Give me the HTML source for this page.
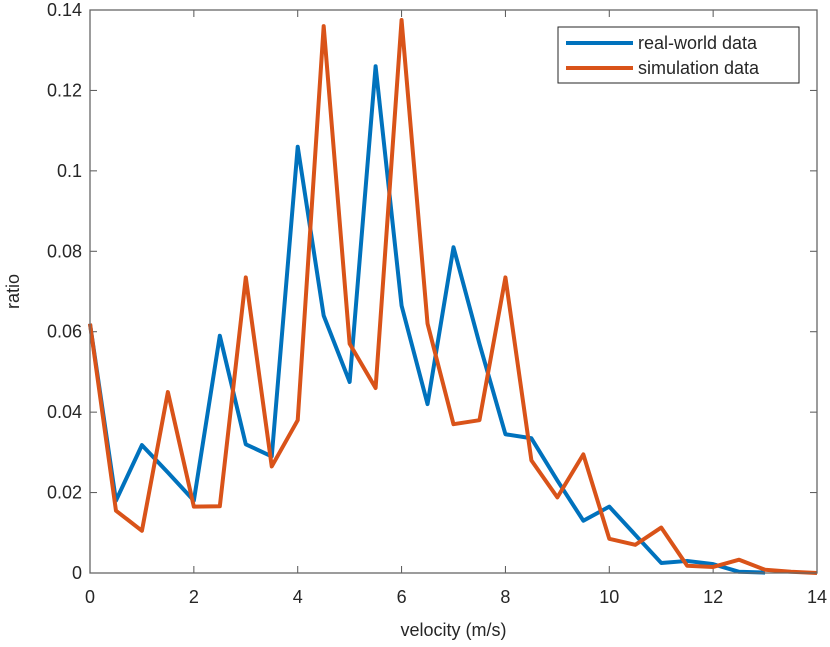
<!DOCTYPE html>
<html><head><meta charset="utf-8"><style>
body{margin:0;background:#fff;width:830px;height:642px;overflow:hidden}
text{font-family:"Liberation Sans",sans-serif;fill:#262626}
</style></head><body>
<svg id="chart" width="830" height="642" xmlns="http://www.w3.org/2000/svg"></svg>
<script>
const xValues=[0,0.5,1,1.5,2,2.5,3,3.5,4,4.5,5,5.5,6,6.5,7,7.5,8,8.5,9,9.5,10,10.5,11,11.5,12,12.5,13,13.5,14];
const realWorld=[0.062,0.018,0.0318,0.025,0.018,0.059,0.032,0.029,0.106,0.064,0.0475,0.126,0.0665,0.042,0.081,0.057,0.0345,0.0335,0.023,0.013,0.0165,0.0095,0.0025,0.003,0.0022,0.0003,0.0001];
const simulation=[0.062,0.0155,0.0105,0.045,0.0165,0.0166,0.0735,0.0265,0.038,0.136,0.057,0.046,0.1375,0.062,0.037,0.038,0.0735,0.028,0.0188,0.0295,0.0085,0.007,0.0113,0.0018,0.0015,0.0033,0.0008,0.0003,0];
const xTicks=[0,2,4,6,8,10,12,14];
const yTicks=[0,0.02,0.04,0.06,0.08,0.1,0.12,0.14];
const yTickLabels=["0","0.02","0.04","0.06","0.08","0.1","0.12","0.14"];
const L=90,R=817,T=10,B=573;
const sx=v=>L+(v-0)/14*(R-L);
const sy=v=>B-(v/0.14)*(B-T);
const svg=document.getElementById('chart');
const NS='http://www.w3.org/2000/svg';
function mk(tag,attrs,parent){const e=document.createElementNS(NS,tag);for(const k in attrs)e.setAttribute(k,attrs[k]);(parent||svg).appendChild(e);return e;}
const axes=mk('g',{});


xTicks.forEach(t=>{
  const x=sx(t);
  mk('line',{x1:x,x2:x,y1:B,y2:B-7,stroke:'#555','stroke-width':1},axes);
  mk('line',{x1:x,x2:x,y1:T,y2:T+7,stroke:'#555','stroke-width':1},axes);
  const tx=mk('text',{x:x,y:B+30,'text-anchor':'middle','font-size':'18'},axes);
  tx.textContent=t;
  
  
});
yTicks.forEach((t,i)=>{
  const y=sy(t);
  mk('line',{x1:L,x2:L+7,y1:y,y2:y,stroke:'#555','stroke-width':1},axes);
  mk('line',{x1:R,x2:R-7,y1:y,y2:y,stroke:'#555','stroke-width':1},axes);
  const tx=mk('text',{x:L-8,y:y+6,'text-anchor':'end','font-size':'18'},axes);
  tx.textContent=yTickLabels[i];
  
  
});
function series(xs,ys,color,name){
  const pts=ys.map((v,i)=>sx(xs[i])+','+sy(v)).join(' ');
  const p=mk('polyline',{points:pts,fill:'none',stroke:color,'stroke-width':4,'stroke-linejoin':'round'});
  
  
}
series(xValues,realWorld,'#0072BD','real-world-line');
series(xValues,simulation,'#D95319','simulation-line');
const box=mk('rect',{x:L,y:T,width:R-L,height:B-T,fill:'none',stroke:'#666','stroke-width':1.3});


const xl=mk('text',{x:(L+R)/2,y:636,'text-anchor':'middle','font-size':'18'});
xl.textContent='velocity (m/s)';


const yl=mk('text',{x:19,y:(T+B)/2,'text-anchor':'middle','font-size':'18',transform:'rotate(-90 19 '+((T+B)/2)+')'});
yl.textContent='ratio';


const lg=mk('g',{});


mk('rect',{x:558,y:27,width:241,height:56,fill:'#fff',stroke:'#262626','stroke-width':1},lg);
const entries=[['real-world data','#0072BD',43],['simulation data','#D95319',68]];
entries.forEach(e=>{
  const g=mk('g',{},lg);
  
  
  mk('line',{x1:566,x2:633,y1:e[2],y2:e[2],stroke:e[1],'stroke-width':4},g);
  const t=mk('text',{x:638,y:e[2]+6,'font-size':'18'},g);
  t.textContent=e[0];
});
</script>
</body></html>
